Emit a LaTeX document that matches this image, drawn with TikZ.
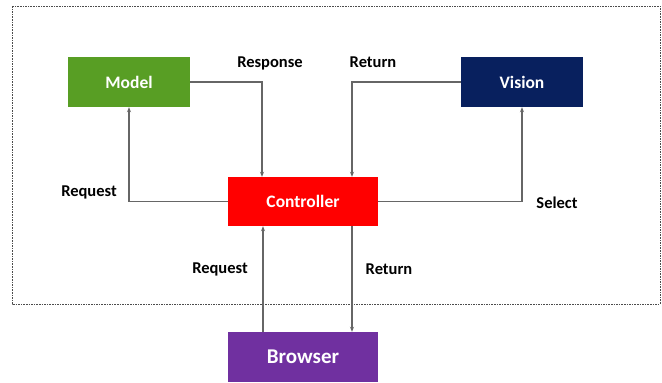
\documentclass[tikz,border=0pt]{standalone}
\usepackage{fontspec}
\setmainfont{Carlito}
\usepackage{tikz}
\usetikzlibrary{positioning}
\usetikzlibrary{arrows.meta}

\begin{document}
\begin{tikzpicture}[x=1pt, y=-1pt,
    box/.style = {minimum width=122pt, minimum height=50pt, inner sep=0pt, text=white, font=\bfseries\fontsize{17.5}{17.5}\selectfont},
    lbl/.style = {inner sep=1pt, font=\bfseries\fontsize{16.5}{16.5}\selectfont},
    arr/.style = {draw=black!60, line width=1.2pt, -{Stealth[length=5pt, width=4pt]}}]
    \useasboundingbox (0,0) rectangle (662,383);
    \draw[black!70, line width=0.9pt, dash pattern=on 1.6pt off 1pt] (12,6) rectangle (660,304);

    \node[box, fill={rgb,255:red,88;green,158;blue,36}] (M) at (129,82) {Model};
    \node[box, fill={rgb,255:red,8;green,32;blue,94}] (V) at (522,82) {Vision};
    \node[box, fill={rgb,255:red,255;green,0;blue,0}, minimum width=150pt, minimum height=49pt] (C) at (303,201.5) {Controller};
    \node[box, fill={rgb,255:red,112;green,48;blue,160}, minimum width=150pt, font=\bfseries\fontsize{21}{21}\selectfont] (B) at (303,357) {Browser};

    \node[lbl] (resp) at (270,63) {Response};
    \node[lbl] (ret1) at (373,62) {Return};
    \node[lbl] (req1) at (89,192) {Request};
    \node[lbl] (sel) at (557,203) {Select};
    \node[lbl] (req2) at (220,269) {Request};
    \node[lbl] (ret2) at (389,269) {Return};

    \draw[arr] (M.east) -| ([xshift=-41pt]C.north);
    \draw[arr] (V.west) -| ([xshift=49pt]C.north);
    \draw[arr] (C.west) -| (M.south);
    \draw[arr] (C.east) -| (V.south);
    \draw[arr] ([xshift=-40pt]B.north) -- ([xshift=-40pt]C.south);
    \draw[arr] ([xshift=49pt]C.south) -- ([xshift=49pt]B.north);
\end{tikzpicture}
\end{document}
